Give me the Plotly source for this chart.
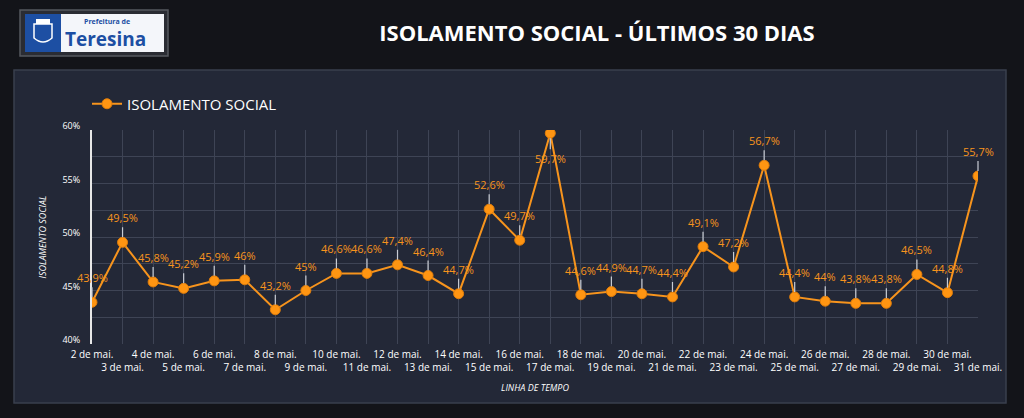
import plotly.graph_objects as go

# dados: isolamento social em Teresina, maio
dias = [f"{d} de mai." for d in range(2, 32)]
isolamento = [43.9, 49.5, 45.8, 45.2, 45.9, 46.0, 43.2, 45.0, 46.6, 46.6,
              47.4, 46.4, 44.7, 52.6, 49.7, 59.7, 44.6, 44.9, 44.7, 44.4,
              49.1, 47.2, 56.7, 44.4, 44.0, 43.8, 43.8, 46.5, 44.8, 55.7]
rotulos_x = [d if i % 2 == 0 else "<br>" + d for i, d in enumerate(dias)]
ticks_y = [40, 45, 50, 55, 60]
rotulos_y = [f"{v}%" for v in ticks_y]

W, H = 1024, 418
L, R, T, B = 92, 46, 130, 74
LARANJA = "#f7941d"
FUNDO = "#131419"
PAINEL = "#232837"


def px(x):
    return (x - L) / (W - L - R)


def py(y):
    return (H - B - y) / (H - T - B)


def fmt(v):
    s = f"{v:.1f}".replace(".", ",")
    if s.endswith(",0"):
        s = s[:-2]
    return s + "%"


fig = go.Figure()

fig.add_trace(go.Scatter(
    x=dias,
    y=isolamento,
    mode="lines+markers",
    name="ISOLAMENTO SOCIAL",
    line=dict(color=LARANJA, width=2),
    marker=dict(color="#ff9512", size=10, line=dict(color="#e07d0a", width=1)),
    hoverinfo="x+y",
))

# rótulos de dados com linha guia
for d, v in zip(dias, isolamento):
    baixo = v == max(isolamento)
    fig.add_annotation(
        x=d, y=v, text=fmt(v),
        showarrow=True, arrowhead=0, arrowwidth=1.2, arrowcolor="#c8ccd4",
        ax=0, ay=16 if baixo else -15, standoff=5,
        yanchor="top" if baixo else "bottom",
        font=dict(color=LARANJA, size=11, family="Open Sans"),
    )

shapes = [
    # painel
    dict(type="rect", xref="paper", yref="paper",
         x0=px(14), x1=px(1006), y0=py(403), y1=py(70),
         fillcolor=PAINEL, line=dict(color="#3a3f4d", width=1.5), layer="below"),
    # logo
    dict(type="rect", xref="paper", yref="paper",
         x0=px(20), x1=px(168), y0=py(56), y1=py(10),
         fillcolor="#2a2c33", line=dict(color="#55585f", width=1.5)),
    dict(type="rect", xref="paper", yref="paper",
         x0=px(25), x1=px(164), y0=py(52), y1=py(14),
         fillcolor="#f4f6fa", line=dict(width=0)),
    dict(type="rect", xref="paper", yref="paper",
         x0=px(25), x1=px(61), y0=py(52), y1=py(14),
         fillcolor="#1d4fa3", line=dict(width=0)),
    dict(type="path", xref="paper", yref="paper",
         path=(f"M {px(34)},{py(24)} L {px(52)},{py(24)} L {px(52)},{py(38)} "
               f"Q {px(43)},{py(46)} {px(34)},{py(38)} Z"),
         fillcolor="rgba(0,0,0,0)", line=dict(color="#ffffff", width=1.5)),
    dict(type="rect", xref="paper", yref="paper",
         x0=px(36), x1=px(50), y0=py(24), y1=py(19),
         fillcolor="#ffffff", line=dict(width=0)),
]

fig.add_annotation(xref="paper", yref="paper", x=px(82), y=py(21),
                   text="<b>Prefeitura de</b>", showarrow=False,
                   xanchor="left", yanchor="middle",
                   font=dict(color="#1d4fa3", size=7, family="Open Sans"))
fig.add_annotation(xref="paper", yref="paper", x=px(63), y=py(39),
                   text="<b>Teresina</b>", showarrow=False,
                   xanchor="left", yanchor="middle",
                   font=dict(color="#1d4fa3", size=19, family="Open Sans"))

fig.update_layout(
    width=W, height=H,
    margin=dict(l=L, r=R, t=T, b=B),
    paper_bgcolor=FUNDO,
    plot_bgcolor=PAINEL,
    separators=",.",
    shapes=shapes,
    title=dict(text="<b>ISOLAMENTO SOCIAL - ÚLTIMOS 30 DIAS</b>",
               xref="container", x=0.583, xanchor="center",
               yref="container", y=1 - 33 / H, yanchor="middle",
               font=dict(color="#ffffff", size=22, family="Open Sans")),
    legend=dict(x=px(87), y=py(104), xanchor="left", yanchor="middle",
                orientation="h", bgcolor="rgba(0,0,0,0)",
                font=dict(color="#ffffff", size=15, family="Open Sans"),
                itemwidth=30),
    showlegend=True,
    xaxis=dict(
        type="category",
        tickmode="array", tickvals=dias, ticktext=rotulos_x,
        range=[0, len(dias) - 1],
        showgrid=True, gridcolor="#3e4455", gridwidth=1,
        tickfont=dict(color="#ffffff", size=10, family="Open Sans"),
        tickangle=0, ticks="", showline=False, zeroline=False,
        ticklabelstandoff=3,
        title=dict(text="<i>LINHA DE TEMPO</i>", standoff=11,
                   font=dict(color="#ffffff", size=9, family="Open Sans")),
    ),
    yaxis=dict(
        range=[40, 60], tickmode="array", tickvals=ticks_y, ticktext=rotulos_y,
        showgrid=True, gridcolor="#3e4455", gridwidth=1,
        minor=dict(dtick=2.5, showgrid=True, gridcolor="#3e4455"),
        showline=True, linecolor="#e8e8e8", linewidth=2,
        tickfont=dict(color="#ffffff", size=9, family="Open Sans"),
        ticks="", zeroline=False, ticklabelstandoff=8, ticklabelshift=-4,
        title=dict(text="<i>ISOLAMENTO SOCIAL</i>", standoff=14,
                   font=dict(color="#ffffff", size=9, family="Open Sans")),
    ),
)

fig.write_html(
    "out.html",
    config={"displayModeBar": False},
    post_script="document.body.style.margin='0';document.body.style.overflow='hidden';",
)
